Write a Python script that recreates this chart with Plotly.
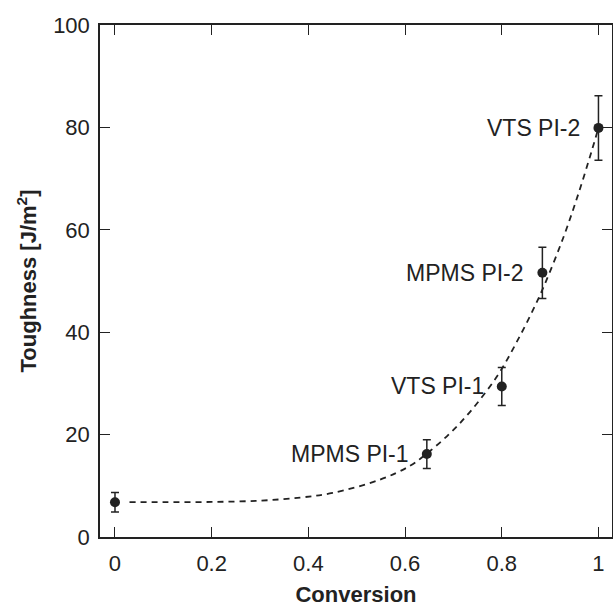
import plotly.graph_objects as go

# Measured data points
conv = [0.0, 0.645, 0.8, 0.884, 1.0]
tough = [6.8, 16.2, 29.4, 51.6, 79.9]
tough_err = [1.9, 2.8, 3.7, 5.0, 6.3]
labels = ["", "MPMS PI-1", "VTS PI-1", "MPMS PI-2", "VTS PI-2"]

# Dashed trend curve
curve_x = [0.03, 0.1, 0.2, 0.3, 0.383, 0.45, 0.548, 0.61, 0.645, 0.69, 0.734, 0.791,
           0.831, 0.869, 0.889, 0.927, 0.958, 0.986, 1.0]
curve_y = [6.8, 6.8, 6.85, 7.1, 7.7, 8.6, 11.2, 13.9, 16.3, 20.0, 24.4, 31.5,
           38.1, 45.2, 49.4, 58.4, 66.9, 75.4, 79.9]

x_ticks = [0, 0.2, 0.4, 0.6, 0.8, 1.0]
x_ticklabels = ["0", "0.2", "0.4", "0.6", "0.8", "1"]
y_ticks = [0, 20, 40, 60, 80, 100]

FONT = "Liberation Sans, Arial, sans-serif"
INK = "#222222"
FS_TICK = 22
FS_TEXT = 23

fig = go.Figure()
fig.add_trace(go.Scatter(
    x=curve_x, y=curve_y, mode="lines", line_shape="spline",
    line=dict(color=INK, width=1.8, dash="6px,5px"),
    hoverinfo="skip", showlegend=False))
fig.add_trace(go.Scatter(
    x=conv, y=tough, mode="markers",
    marker=dict(color=INK, size=10),
    error_y=dict(type="data", array=tough_err, visible=True,
                 color=INK, thickness=1.5, width=4),
    showlegend=False))

for xv, yv, lab in zip(conv, tough, labels):
    if lab:
        fig.add_annotation(x=xv, y=yv, text=lab, showarrow=False,
                           xanchor="right", yanchor="middle", xshift=-16,
                           font=dict(family=FONT, size=FS_TEXT, color=INK))

axis_common = dict(
    showline=True, linecolor=INK, linewidth=1.5, mirror="ticks",
    ticks="inside", ticklen=10, tickwidth=1.3, tickcolor=INK,
    showgrid=False, zeroline=False, automargin=False,
    tickfont=dict(family=FONT, size=FS_TICK, color=INK),
)

fig.update_xaxes(range=[-0.031, 1.028], tickvals=x_ticks, ticktext=x_ticklabels,
                 title=dict(text="<b>Conversion</b>", standoff=12,
                            font=dict(family=FONT, size=FS_TICK, color=INK)),
                 ticklabelstandoff=6,
                 **axis_common)
fig.update_yaxes(range=[0, 100], tickvals=y_ticks,
                 title=dict(text="<b>Toughness [J/m<sup>2</sup>]</b>", standoff=10,
                            font=dict(family=FONT, size=FS_TICK, color=INK)),
                 ticklabelstandoff=4,
                 **axis_common)

fig.update_layout(
    width=613, height=607,
    margin=dict(l=100, r=1, t=25, b=70, autoexpand=False),
    paper_bgcolor="white", plot_bgcolor="white",
    font=dict(family=FONT, color=INK),
)

fig.write_html("out.html", config={"displayModeBar": False},
               post_script="document.body.style.margin='0';document.body.style.overflow='hidden';")
